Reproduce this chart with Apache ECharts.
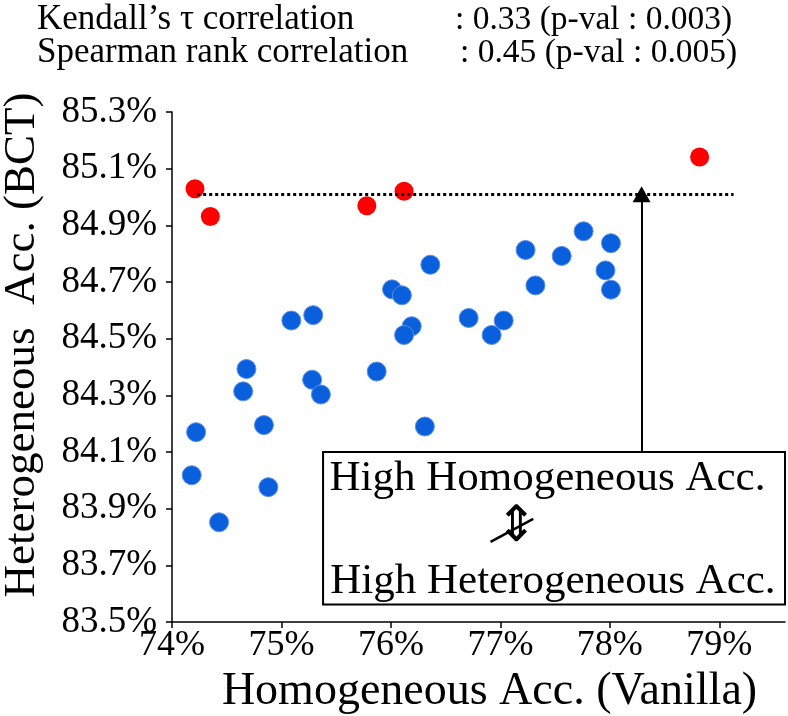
<!DOCTYPE html>
<html>
<head>
<meta charset="UTF-8">
<title>Homogeneous vs Heterogeneous Acc.</title>
<script type="text/javascript" src="https://cdn.jsdelivr.net/npm/echarts@6/dist/echarts.min.js"></script>
<style>
  html, body { margin: 0; padding: 0; background: #fff; }
</style>
</head>
<body>
<div id="main" style="width:788px;height:716px"></div>
<script type="text/javascript">
// homogeneous acc. (vanilla) vs heterogeneous acc. (BCT), in %
var bluePoints = [
  [76.36, 84.761], [76.01, 84.674], [76.10, 84.653], [75.09, 84.564],
  [75.29, 84.583], [76.71, 84.573], [76.19, 84.544], [76.12, 84.513],
  [76.92, 84.513], [77.76, 84.879], [77.23, 84.813], [77.56, 84.792],
  [78.01, 84.837], [77.96, 84.741], [78.01, 84.673], [77.32, 84.688],
  [77.03, 84.564], [74.68, 84.393], [74.65, 84.314], [75.28, 84.355],
  [75.36, 84.303], [75.87, 84.384], [74.22, 84.170], [74.84, 84.195],
  [76.31, 84.190], [74.18, 84.018], [74.88, 83.976], [74.43, 83.852]
];
var redPoints = [
  [74.21, 85.029], [74.35, 84.931], [75.78, 84.969], [76.12, 85.020], [78.82, 85.141]
];
var xTicks = [74, 75, 76, 77, 78, 79];
var yTicks = [83.5, 83.7, 83.9, 84.1, 84.3, 84.5, 84.7, 84.9, 85.1, 85.3];
var threshold = 85.01;
var statLines = [
  ['Kendall\u2019s \u03c4 correlation', ': 0.33 (p-val : 0.003)'],
  ['Spearman rank correlation', ': 0.45 (p-val : 0.005)']
];
var boxLines = ['High Homogeneous Acc.', '\u21d5', 'High Heterogeneous Acc.'];

var serif = '"Liberation Serif", "Times New Roman", serif';
var myChart = echarts.init(document.getElementById('main'));

var option = {
  animation: false,
  grid: { left: 172, right: 3, top: 112, bottom: 94, outerBoundsMode: 'none', containLabel: false },
  xAxis: {
    type: 'value', min: 74, max: 79.6,
    name: 'Homogeneous Acc. (Vanilla)', nameLocation: 'middle', nameGap: 43,
    nameTextStyle: { fontFamily: serif, fontSize: 46, color: '#000', padding: [0, 0, 0, 22] },
    axisLine: { lineStyle: { color: '#000', width: 1.5 } },
    axisTick: { customValues: xTicks, length: 6, lineStyle: { color: '#000', width: 1.5 } },
    axisLabel: { customValues: xTicks, fontFamily: serif, fontSize: 36, color: '#000', margin: 6,
      formatter: function (v) { return v + '%'; } },
    splitLine: { show: false }
  },
  yAxis: {
    type: 'value', min: 83.5, max: 85.3,
    axisLine: { show: true, lineStyle: { color: '#000', width: 1.5 } },
    axisTick: { show: true, customValues: yTicks, length: 6, lineStyle: { color: '#000', width: 1.5 } },
    axisLabel: { customValues: yTicks, fontFamily: serif, fontSize: 37, color: '#000', margin: 15,
      formatter: function (v) { return v.toFixed(1) + '%'; } },
    splitLine: { show: false }
  },
  graphic: [
    { type: 'text', left: 37, top: 2, style: { text: statLines[0][0], font: '35px ' + serif, fill: '#000' } },
    { type: 'text', left: 455, top: 3, style: { text: statLines[0][1], font: '33.5px ' + serif, fill: '#000' } },
    { type: 'text', left: 37, top: 35, style: { text: statLines[1][0], font: '35px ' + serif, fill: '#000' } },
    { type: 'text', left: 460, top: 36, style: { text: statLines[1][1], font: '33.5px ' + serif, fill: '#000' } },
    { type: 'text', x: 22, y: 345, rotation: Math.PI / 2,
      style: { text: 'Heterogeneous  Acc. (BCT)', font: '45px ' + serif, fill: '#000',
        align: 'center', verticalAlign: 'middle' } }
  ],
  series: [
    {
      type: 'scatter', data: bluePoints, symbolSize: 19, z: 3,
      itemStyle: { color: '#0a5fdc', borderColor: '#5b8fe4', borderWidth: 1, opacity: 1 }
    },
    {
      type: 'scatter', data: redPoints, symbolSize: 19, z: 3,
      itemStyle: { color: '#ff0000', opacity: 1 },
      markLine: {
        silent: true, symbol: 'none', animation: false,
        label: { show: false },
        data: [
          [{ coord: [74.23, threshold], lineStyle: { type: [3, 3], width: 3, color: '#000' } },
           { coord: [79.13, threshold] }],
          [{ coord: [78.29, 84.10], symbol: 'none', lineStyle: { type: 'solid', width: 2, color: '#000' } },
           { coord: [78.29, threshold], symbol: 'triangle', symbolSize: [18, 16] }],
          [{ coord: [76.91, 83.783], lineStyle: { type: 'solid', width: 2.5, color: '#000' } },
           { coord: [77.30, 83.864] }]
        ]
      },
      markArea: {
        silent: true,
        itemStyle: { color: '#fff', borderColor: '#000', borderWidth: 2 },
        data: [[{ coord: [75.38, 84.10] }, { coord: [79.6, 83.562] }]]
      },
      markPoint: {
        silent: true, symbol: 'circle', symbolSize: 0,
        label: { show: true, fontFamily: serif, fontSize: 43, color: '#000', position: 'inside' },
        data: [
          { coord: [77.43, 84.005], label: { formatter: boxLines[0] } },
          { coord: [77.15, 83.830], label: { formatter: boxLines[1], fontFamily: 'DejaVu Sans', fontSize: 50 } },
          { coord: [77.48, 83.642], label: { formatter: boxLines[2] } }
        ]
      }
    }
  ]
};

myChart.setOption(option);
</script>
</body>
</html>
